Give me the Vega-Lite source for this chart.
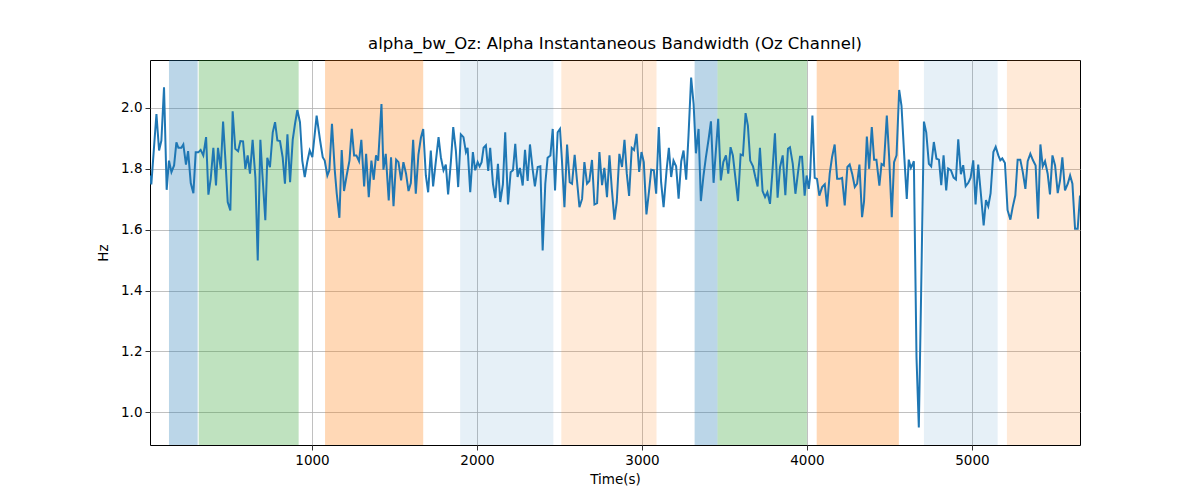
{
  "$schema": "https://vega.github.io/schema/vega-lite/v6.json",
  "autosize": {"type": "none"},
  "padding": {"left": 150, "top": 60, "right": 120, "bottom": 55},
  "width": 930,
  "height": 385,
  "background": "white",
  "title": {
    "text": "alpha_bw_Oz: Alpha Instantaneous Bandwidth (Oz Channel)",
    "font": "DejaVu Sans",
    "fontSize": 16.5,
    "fontWeight": "normal",
    "color": "black",
    "offset": 8
  },
  "datasets": {
    "bands": [
      {"start": 133, "end": 307, "kind": "blue"},
      {"start": 313, "end": 919, "kind": "green"},
      {"start": 1079, "end": 1674, "kind": "orange"},
      {"start": 1898, "end": 2463, "kind": "lightblue"},
      {"start": 2511, "end": 3088, "kind": "lightorange"},
      {"start": 3319, "end": 3458, "kind": "blue"},
      {"start": 3458, "end": 4000, "kind": "green"},
      {"start": 4059, "end": 4557, "kind": "orange"},
      {"start": 4709, "end": 5156, "kind": "lightblue"},
      {"start": 5212, "end": 5655, "kind": "lightorange"}
    ],
    "series": [
      {"t": 18, "v": 1.778}, {"t": 26, "v": 1.749}, {"t": 57, "v": 1.98}, {"t": 73, "v": 1.86},
      {"t": 87, "v": 1.893}, {"t": 103, "v": 2.068}, {"t": 119, "v": 1.731}, {"t": 133, "v": 1.827},
      {"t": 148, "v": 1.789}, {"t": 164, "v": 1.811}, {"t": 178, "v": 1.887}, {"t": 190, "v": 1.869},
      {"t": 208, "v": 1.869}, {"t": 220, "v": 1.88}, {"t": 236, "v": 1.814}, {"t": 249, "v": 1.858},
      {"t": 265, "v": 1.753}, {"t": 281, "v": 1.72}, {"t": 295, "v": 1.854}, {"t": 311, "v": 1.854},
      {"t": 325, "v": 1.862}, {"t": 341, "v": 1.844}, {"t": 358, "v": 1.904}, {"t": 372, "v": 1.715},
      {"t": 386, "v": 1.767}, {"t": 402, "v": 1.869}, {"t": 418, "v": 1.745}, {"t": 430, "v": 1.869},
      {"t": 447, "v": 1.8}, {"t": 461, "v": 1.955}, {"t": 475, "v": 1.83}, {"t": 489, "v": 1.691},
      {"t": 505, "v": 1.663}, {"t": 519, "v": 1.989}, {"t": 535, "v": 1.866}, {"t": 552, "v": 1.858},
      {"t": 566, "v": 1.891}, {"t": 582, "v": 1.89}, {"t": 596, "v": 1.8}, {"t": 610, "v": 1.844},
      {"t": 624, "v": 1.784}, {"t": 640, "v": 1.895}, {"t": 657, "v": 1.77}, {"t": 671, "v": 1.499},
      {"t": 687, "v": 1.895}, {"t": 699, "v": 1.784}, {"t": 717, "v": 1.631}, {"t": 729, "v": 1.836},
      {"t": 745, "v": 1.805}, {"t": 762, "v": 1.92}, {"t": 776, "v": 1.953}, {"t": 790, "v": 1.893},
      {"t": 806, "v": 1.891}, {"t": 822, "v": 1.838}, {"t": 836, "v": 1.751}, {"t": 851, "v": 1.913},
      {"t": 867, "v": 1.756}, {"t": 883, "v": 1.895}, {"t": 897, "v": 1.948}, {"t": 911, "v": 1.993},
      {"t": 927, "v": 1.953}, {"t": 941, "v": 1.827}, {"t": 956, "v": 1.773}, {"t": 972, "v": 1.825},
      {"t": 986, "v": 1.86}, {"t": 1002, "v": 1.838}, {"t": 1028, "v": 1.975}, {"t": 1049, "v": 1.893},
      {"t": 1065, "v": 1.838}, {"t": 1077, "v": 1.827}, {"t": 1093, "v": 1.778}, {"t": 1105, "v": 1.795},
      {"t": 1121, "v": 1.948}, {"t": 1138, "v": 1.795}, {"t": 1150, "v": 1.718}, {"t": 1166, "v": 1.639},
      {"t": 1180, "v": 1.862}, {"t": 1194, "v": 1.727}, {"t": 1210, "v": 1.778}, {"t": 1227, "v": 1.827},
      {"t": 1241, "v": 1.931}, {"t": 1255, "v": 1.844}, {"t": 1269, "v": 1.844}, {"t": 1285, "v": 1.825},
      {"t": 1299, "v": 1.895}, {"t": 1316, "v": 1.742}, {"t": 1328, "v": 1.849}, {"t": 1344, "v": 1.707},
      {"t": 1360, "v": 1.827}, {"t": 1374, "v": 1.764}, {"t": 1388, "v": 1.844}, {"t": 1401, "v": 1.827},
      {"t": 1421, "v": 2.013}, {"t": 1433, "v": 1.797}, {"t": 1447, "v": 1.849}, {"t": 1465, "v": 1.696},
      {"t": 1479, "v": 1.838}, {"t": 1494, "v": 1.677}, {"t": 1510, "v": 1.83}, {"t": 1524, "v": 1.822},
      {"t": 1540, "v": 1.762}, {"t": 1554, "v": 1.822}, {"t": 1570, "v": 1.784}, {"t": 1585, "v": 1.727},
      {"t": 1599, "v": 1.753}, {"t": 1613, "v": 1.895}, {"t": 1629, "v": 1.718}, {"t": 1645, "v": 1.847},
      {"t": 1660, "v": 1.902}, {"t": 1674, "v": 1.931}, {"t": 1690, "v": 1.778}, {"t": 1704, "v": 1.723},
      {"t": 1720, "v": 1.86}, {"t": 1734, "v": 1.742}, {"t": 1751, "v": 1.827}, {"t": 1767, "v": 1.904},
      {"t": 1781, "v": 1.838}, {"t": 1797, "v": 1.795}, {"t": 1811, "v": 1.814}, {"t": 1825, "v": 1.716},
      {"t": 1842, "v": 1.825}, {"t": 1856, "v": 1.937}, {"t": 1872, "v": 1.86}, {"t": 1886, "v": 1.74},
      {"t": 1902, "v": 1.913}, {"t": 1918, "v": 1.904}, {"t": 1933, "v": 1.855}, {"t": 1943, "v": 1.869},
      {"t": 1959, "v": 1.723}, {"t": 1975, "v": 1.855}, {"t": 1989, "v": 1.795}, {"t": 2004, "v": 1.822},
      {"t": 2016, "v": 1.808}, {"t": 2028, "v": 1.822}, {"t": 2040, "v": 1.869}, {"t": 2054, "v": 1.877},
      {"t": 2068, "v": 1.793}, {"t": 2080, "v": 1.869}, {"t": 2097, "v": 1.749}, {"t": 2111, "v": 1.704},
      {"t": 2127, "v": 1.816}, {"t": 2141, "v": 1.691}, {"t": 2157, "v": 1.749}, {"t": 2171, "v": 1.92},
      {"t": 2188, "v": 1.683}, {"t": 2204, "v": 1.789}, {"t": 2218, "v": 1.795}, {"t": 2232, "v": 1.882},
      {"t": 2246, "v": 1.773}, {"t": 2260, "v": 1.803}, {"t": 2277, "v": 1.745}, {"t": 2291, "v": 1.862},
      {"t": 2307, "v": 1.76}, {"t": 2321, "v": 1.88}, {"t": 2337, "v": 1.8}, {"t": 2351, "v": 1.742},
      {"t": 2368, "v": 1.806}, {"t": 2384, "v": 1.808}, {"t": 2398, "v": 1.532}, {"t": 2414, "v": 1.751},
      {"t": 2428, "v": 1.836}, {"t": 2445, "v": 1.844}, {"t": 2459, "v": 1.931}, {"t": 2473, "v": 1.729},
      {"t": 2489, "v": 1.92}, {"t": 2503, "v": 1.931}, {"t": 2515, "v": 1.827}, {"t": 2530, "v": 1.674},
      {"t": 2546, "v": 1.88}, {"t": 2562, "v": 1.756}, {"t": 2576, "v": 1.751}, {"t": 2592, "v": 1.846},
      {"t": 2606, "v": 1.762}, {"t": 2621, "v": 1.674}, {"t": 2637, "v": 1.701}, {"t": 2651, "v": 1.822},
      {"t": 2667, "v": 1.751}, {"t": 2681, "v": 1.76}, {"t": 2697, "v": 1.829}, {"t": 2712, "v": 1.683},
      {"t": 2728, "v": 1.687}, {"t": 2742, "v": 1.855}, {"t": 2758, "v": 1.746}, {"t": 2772, "v": 1.803},
      {"t": 2788, "v": 1.707}, {"t": 2803, "v": 1.844}, {"t": 2817, "v": 1.735}, {"t": 2833, "v": 1.633},
      {"t": 2847, "v": 1.691}, {"t": 2863, "v": 1.849}, {"t": 2879, "v": 1.806}, {"t": 2894, "v": 1.895},
      {"t": 2908, "v": 1.784}, {"t": 2922, "v": 1.711}, {"t": 2938, "v": 1.869}, {"t": 2952, "v": 1.862},
      {"t": 2967, "v": 1.915}, {"t": 2983, "v": 1.79}, {"t": 2997, "v": 1.855}, {"t": 3011, "v": 1.822},
      {"t": 3027, "v": 1.65}, {"t": 3042, "v": 1.723}, {"t": 3056, "v": 1.797}, {"t": 3072, "v": 1.795},
      {"t": 3086, "v": 1.718}, {"t": 3102, "v": 1.937}, {"t": 3116, "v": 1.756}, {"t": 3131, "v": 1.674},
      {"t": 3149, "v": 1.795}, {"t": 3163, "v": 1.869}, {"t": 3177, "v": 1.773}, {"t": 3191, "v": 1.827},
      {"t": 3207, "v": 1.808}, {"t": 3222, "v": 1.702}, {"t": 3238, "v": 1.825}, {"t": 3252, "v": 1.86},
      {"t": 3268, "v": 1.764}, {"t": 3282, "v": 1.909}, {"t": 3298, "v": 2.1}, {"t": 3313, "v": 2.013},
      {"t": 3327, "v": 1.851}, {"t": 3343, "v": 1.931}, {"t": 3357, "v": 1.694}, {"t": 3373, "v": 1.778},
      {"t": 3387, "v": 1.836}, {"t": 3404, "v": 1.898}, {"t": 3418, "v": 1.956}, {"t": 3434, "v": 1.754},
      {"t": 3448, "v": 1.86}, {"t": 3462, "v": 1.964}, {"t": 3478, "v": 1.762}, {"t": 3493, "v": 1.822},
      {"t": 3509, "v": 1.844}, {"t": 3523, "v": 1.784}, {"t": 3537, "v": 1.871}, {"t": 3551, "v": 1.844},
      {"t": 3568, "v": 1.762}, {"t": 3582, "v": 1.694}, {"t": 3598, "v": 1.847}, {"t": 3612, "v": 1.844},
      {"t": 3628, "v": 1.983}, {"t": 3642, "v": 1.942}, {"t": 3656, "v": 1.827}, {"t": 3673, "v": 1.808},
      {"t": 3687, "v": 1.773}, {"t": 3701, "v": 1.742}, {"t": 3715, "v": 1.869}, {"t": 3731, "v": 1.727},
      {"t": 3746, "v": 1.707}, {"t": 3760, "v": 1.723}, {"t": 3776, "v": 1.685}, {"t": 3790, "v": 1.786},
      {"t": 3806, "v": 1.917}, {"t": 3822, "v": 1.705}, {"t": 3837, "v": 1.806}, {"t": 3853, "v": 1.844},
      {"t": 3869, "v": 1.713}, {"t": 3885, "v": 1.866}, {"t": 3897, "v": 1.871}, {"t": 3914, "v": 1.816},
      {"t": 3930, "v": 1.718}, {"t": 3946, "v": 1.789}, {"t": 3958, "v": 1.84}, {"t": 3970, "v": 1.84},
      {"t": 3986, "v": 1.712}, {"t": 3998, "v": 1.778}, {"t": 4011, "v": 1.734}, {"t": 4019, "v": 1.773},
      {"t": 4033, "v": 1.975}, {"t": 4047, "v": 1.77}, {"t": 4061, "v": 1.767}, {"t": 4075, "v": 1.712},
      {"t": 4092, "v": 1.74}, {"t": 4108, "v": 1.749}, {"t": 4122, "v": 1.676}, {"t": 4138, "v": 1.784},
      {"t": 4152, "v": 1.838}, {"t": 4168, "v": 1.88}, {"t": 4183, "v": 1.767}, {"t": 4197, "v": 1.767},
      {"t": 4213, "v": 1.77}, {"t": 4229, "v": 1.68}, {"t": 4245, "v": 1.806}, {"t": 4259, "v": 1.814},
      {"t": 4274, "v": 1.784}, {"t": 4290, "v": 1.74}, {"t": 4304, "v": 1.751}, {"t": 4318, "v": 1.814},
      {"t": 4334, "v": 1.641}, {"t": 4346, "v": 1.693}, {"t": 4363, "v": 1.906}, {"t": 4377, "v": 1.8},
      {"t": 4393, "v": 1.937}, {"t": 4407, "v": 1.83}, {"t": 4421, "v": 1.83}, {"t": 4439, "v": 1.745},
      {"t": 4452, "v": 1.816}, {"t": 4466, "v": 1.811}, {"t": 4484, "v": 1.975}, {"t": 4498, "v": 1.841},
      {"t": 4514, "v": 1.641}, {"t": 4528, "v": 1.822}, {"t": 4543, "v": 1.844}, {"t": 4559, "v": 2.059},
      {"t": 4573, "v": 2.007}, {"t": 4589, "v": 1.849}, {"t": 4605, "v": 1.701}, {"t": 4617, "v": 1.83},
      {"t": 4630, "v": 1.803}, {"t": 4640, "v": 1.814}, {"t": 4648, "v": 1.825}, {"t": 4664, "v": 1.18},
      {"t": 4678, "v": 0.95}, {"t": 4692, "v": 1.39}, {"t": 4709, "v": 1.955}, {"t": 4723, "v": 1.92},
      {"t": 4739, "v": 1.816}, {"t": 4753, "v": 1.808}, {"t": 4769, "v": 1.888}, {"t": 4785, "v": 1.833},
      {"t": 4800, "v": 1.83}, {"t": 4814, "v": 1.746}, {"t": 4828, "v": 1.844}, {"t": 4844, "v": 1.729},
      {"t": 4856, "v": 1.801}, {"t": 4873, "v": 1.795}, {"t": 4889, "v": 1.771}, {"t": 4903, "v": 1.765},
      {"t": 4917, "v": 1.897}, {"t": 4933, "v": 1.782}, {"t": 4947, "v": 1.812}, {"t": 4962, "v": 1.743},
      {"t": 4978, "v": 1.754}, {"t": 4992, "v": 1.771}, {"t": 5008, "v": 1.828}, {"t": 5022, "v": 1.683},
      {"t": 5038, "v": 1.814}, {"t": 5055, "v": 1.713}, {"t": 5071, "v": 1.614}, {"t": 5085, "v": 1.697},
      {"t": 5099, "v": 1.677}, {"t": 5113, "v": 1.719}, {"t": 5130, "v": 1.855}, {"t": 5144, "v": 1.872},
      {"t": 5160, "v": 1.844}, {"t": 5172, "v": 1.828}, {"t": 5184, "v": 1.834}, {"t": 5200, "v": 1.819},
      {"t": 5216, "v": 1.664}, {"t": 5233, "v": 1.633}, {"t": 5247, "v": 1.674}, {"t": 5263, "v": 1.713},
      {"t": 5277, "v": 1.83}, {"t": 5293, "v": 1.83}, {"t": 5308, "v": 1.79}, {"t": 5324, "v": 1.734},
      {"t": 5338, "v": 1.825}, {"t": 5354, "v": 1.849}, {"t": 5370, "v": 1.828}, {"t": 5386, "v": 1.811},
      {"t": 5401, "v": 1.636}, {"t": 5415, "v": 1.88}, {"t": 5429, "v": 1.808}, {"t": 5443, "v": 1.825},
      {"t": 5459, "v": 1.784}, {"t": 5473, "v": 1.716}, {"t": 5488, "v": 1.844}, {"t": 5504, "v": 1.811},
      {"t": 5520, "v": 1.72}, {"t": 5534, "v": 1.762}, {"t": 5548, "v": 1.838}, {"t": 5564, "v": 1.729},
      {"t": 5581, "v": 1.751}, {"t": 5595, "v": 1.778}, {"t": 5609, "v": 1.751}, {"t": 5625, "v": 1.603},
      {"t": 5641, "v": 1.603}, {"t": 5655, "v": 1.712}
    ]
  },
  "layer": [
    {
      "data": {"name": "bands"},
      "mark": {"type": "rect", "strokeWidth": 1, "opacity": 1},
      "encoding": {
        "x": {
          "field": "start",
          "type": "quantitative",
          "scale": {"domain": [18, 5655], "nice": false, "zero": false},
          "axis": {"title": "Time(s)", "values": [1000, 2000, 3000, 4000, 5000], "format": "d"}
        },
        "x2": {"field": "end"},
        "color": {
          "field": "kind",
          "type": "nominal",
          "scale": {
            "domain": ["blue", "green", "orange", "lightblue", "lightorange"],
            "range": ["rgba(31,119,180,0.3)", "rgba(44,160,44,0.3)", "rgba(255,127,14,0.3)", "rgba(31,119,180,0.11)", "rgba(255,127,14,0.16)"]
          },
          "legend": null
        }
      }
    },
    {
      "data": {"name": "series"},
      "mark": {"type": "line", "color": "#1f77b4", "strokeWidth": 2, "clip": true},
      "encoding": {
        "x": {"field": "t", "type": "quantitative"},
        "y": {
          "field": "v",
          "type": "quantitative",
          "scale": {"domain": [0.8925, 2.1575], "nice": false, "zero": false},
          "axis": {"title": "Hz", "values": [1.0, 1.2, 1.4, 1.6, 1.8, 2.0], "format": ".1f"}
        }
      }
    }
  ],
  "config": {
    "font": "DejaVu Sans",
    "view": {"stroke": "black", "strokeWidth": 1},
    "axis": {
      "grid": true,
      "gridColor": "#b0b0b0",
      "gridWidth": 0.8,
      "domain": false,
      "tickColor": "black",
      "tickSize": 5,
      "tickWidth": 0.8,
      "labelFont": "DejaVu Sans",
      "labelFontSize": 13.5,
      "labelColor": "black",
      "labelPadding": 3,
      "titleFont": "DejaVu Sans",
      "titleFontSize": 13.5,
      "titleFontWeight": "normal",
      "titleColor": "black"
    },
    "axisX": {"titlePadding": 6},
    "axisY": {"titlePadding": 10}
  }
}
